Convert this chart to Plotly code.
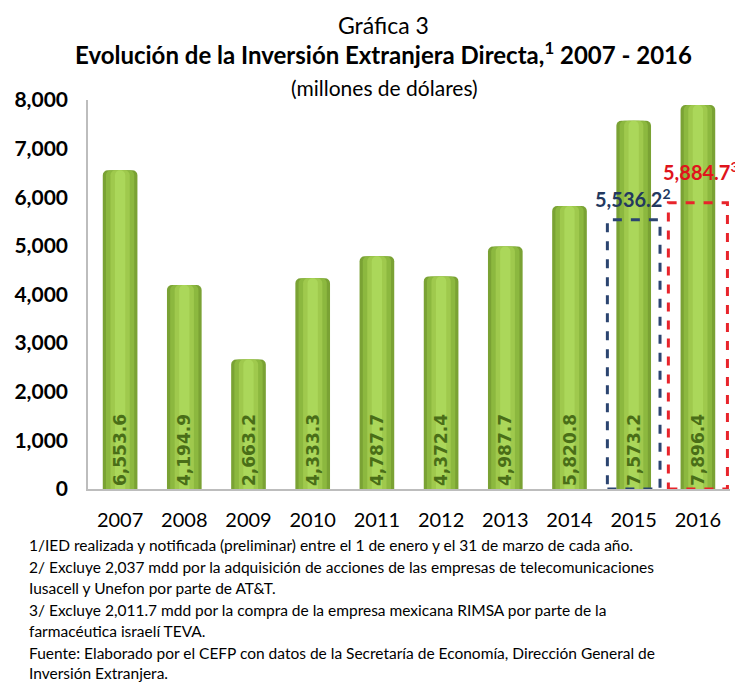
import plotly.graph_objects as go

years = ["2007", "2008", "2009", "2010", "2011", "2012", "2013", "2014", "2015", "2016"]
ied = [6553.6, 4194.9, 2663.2, 4333.3, 4787.7, 4372.4, 4987.7, 5820.8, 7573.2, 7896.4]
adjusted_years = ["2015", "2016"]
adjusted_values = [5536.2, 5884.7]
adjusted_notes = ["2", "3"]
labels = [f"{v:,.1f}" for v in ied]
xpos = list(range(len(years)))

OFF = 8  # page body margin of the browser
W, H = 735, 676
L, R, T, B = 80, 13, 92, 195
PW = W - L - R
PH = H - T - B

def px(xp):
    return (xp - OFF - L) / PW

def py(yp):
    return (H - B - (yp - OFF)) / PH

fig = go.Figure()
layers = [(0.54, "#7aa234"), (0.44, "#8cb83f"), (0.30, "#9fc94d"), (0.16, "#abd75a")]
for w, c in layers:
    fig.add_trace(go.Bar(x=xpos, y=ied, width=w, marker=dict(color=c, line=dict(width=0), cornerradius=5),
                         hoverinfo="skip", showlegend=False))
fig.add_trace(go.Bar(x=xpos, y=ied, width=0.54, marker=dict(color="rgba(0,0,0,0)", line=dict(width=0)),
                     text=labels, textposition="inside", insidetextanchor="start", textangle=-90,
                     textfont=dict(family="DejaVu Sans", size=17, color="#4a6e18", weight="bold"),
                     showlegend=False))

box_styles = {"2015": dict(color="#2b4470", half=0.41, tcolor="#23395f", xs=-1, ys=7),
              "2016": dict(color="#e8242b", half=0.46, tcolor="#e0141c", xs=3, ys=17)}
for yr, val, note in zip(adjusted_years, adjusted_values, adjusted_notes):
    st = box_styles[yr]
    i = years.index(yr)
    fig.add_shape(type="rect", xref="x", yref="y", x0=i - st["half"], x1=i + st["half"], y0=0, y1=val,
                  line=dict(color=st["color"], width=3, dash="dash"), layer="above")
    fig.add_annotation(x=i, y=val, xref="x", yref="y", yanchor="bottom", yshift=st["ys"], xshift=st["xs"],
                       text=f"<b>{val:,.1f}<sup>{note}</sup></b>", showarrow=False,
                       font=dict(family="Lato", size=20, color=st["tcolor"]))

ann_font = "Lato"
fig.add_annotation(xref="paper", yref="paper", x=px(383), y=py(25), text="Gráfica 3", showarrow=False,
                   font=dict(family=ann_font, size=23, color="#000"), yanchor="middle")
fig.add_annotation(xref="paper", yref="paper", x=px(383), y=py(53),
                   text="<b>Evolución de la Inversión Extranjera Directa,<sup>1</sup> 2007 - 2016</b>",
                   showarrow=False, font=dict(family=ann_font, size=24, color="#000"), yanchor="middle")
fig.add_annotation(xref="paper", yref="paper", x=px(384), y=py(87), text="(millones de dólares)", showarrow=False,
                   font=dict(family=ann_font, size=21, color="#000"), yanchor="middle")

notes = [
    ("1/IED realizada y notificada (preliminar) entre el 1 de enero y el 31 de marzo de cada año.", 545),
    ("2/ Excluye 2,037 mdd por la adquisición de acciones de las empresas de telecomunicaciones", 567),
    ("Iusacell y Unefon por parte de AT&T.", 588),
    ("3/ Excluye 2,011.7 mdd por la compra de la empresa mexicana RIMSA por parte de la", 610),
    ("farmacéutica israelí TEVA.", 631),
    ("Fuente: Elaborado por el CEFP con datos de la Secretaría de Economía, Dirección General de", 653),
    ("Inversión Extranjera.", 673),
]
for t, yp in notes:
    fig.add_annotation(xref="paper", yref="paper", x=px(27), y=py(yp), text=t, showarrow=False,
                       xanchor="left", yanchor="middle",
                       font=dict(family="Lato", size=15.5, color="#000"))

fig.update_layout(
    width=W, height=H, margin=dict(l=L, r=R, t=T, b=B, autoexpand=False),
    paper_bgcolor="white", plot_bgcolor="white", barmode="overlay",
    xaxis=dict(range=[-0.5, len(years) - 0.5], tickvals=xpos, ticktext=years, showline=True,
               linecolor="#bdbdbd", linewidth=1.5, showgrid=False, zeroline=False, automargin=False,
               ticks="", tickfont=dict(family="Lato", size=20, color="#000"), ticklabelstandoff=12),
    yaxis=dict(range=[0, 8000], dtick=1000, tickformat=",d", showline=True, linecolor="#bdbdbd",
               linewidth=1.5, showgrid=False, zeroline=False, ticks="", automargin=False,
               tickfont=dict(family="Lato", size=21, color="#000", weight="bold"), ticklabelstandoff=14),
)
fig.write_html("out.html")
